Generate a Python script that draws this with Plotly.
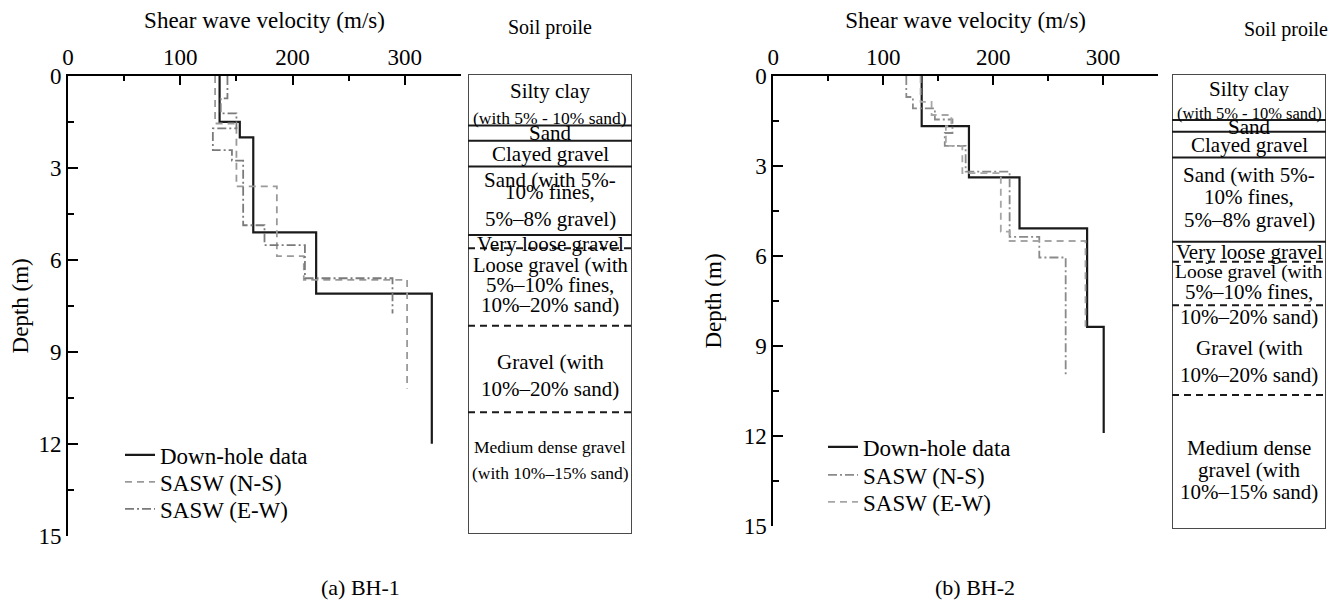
import plotly.graph_objects as go

W, H = 1338, 600
OFF = 8  # the page body adds an 8px margin; positions below are in screenshot pixels
FONT = "Liberation Serif"

# ---------------- data ----------------
velocity_ticks = [0, 100, 200, 300]
depth_ticks = [0, 3, 6, 9, 12, 15]
series_names = ["Down-hole data", "SASW (N-S)", "SASW (E-W)"]

# BH-1  (layer boundaries in m, velocity of each layer in m/s)
bh1_dh_depth = [0, 1.5, 2.0, 5.1, 7.1, 12.0]
bh1_dh_vs = [135, 153, 165, 221, 324]
bh1_ns_depth = [0, 1.55, 3.6, 5.88, 6.65, 10.2]
bh1_ns_vs = [131, 150, 186, 210, 302]
bh1_ew_depth = [0, 0.73, 1.22, 1.71, 2.42, 2.76, 4.87, 5.52, 6.6, 7.75]
bh1_ew_vs = [142, 136, 150, 129, 146, 156, 175, 211, 289]

# BH-2
bh2_dh_depth = [0, 1.67, 3.38, 5.08, 8.36, 11.9]
bh2_dh_vs = [135, 178, 224, 285.5, 300.6]
bh2_ns_depth = [0, 0.7, 1.08, 1.45, 1.9, 2.33, 3.19, 5.36, 6.05, 10.0]
bh2_ns_vs = [121, 127, 147, 163, 156, 175, 215, 242, 266]
bh2_ew_depth = [0, 0.86, 1.3, 1.67, 2.33, 3.24, 5.19, 5.5, 8.36]
bh2_ew_vs = [134, 144, 162, 157, 172, 207, 215, 284]

# soil profiles
profile_depth = 15
bh1_solid_bounds = [1.68, 2.18, 3.02, 5.25]
bh1_dashed_bounds = [5.68, 8.21, 11.03]
bh1_soil_text = ["Silty clay", "(with 5% - 10% sand)", "Sand", "Clayed gravel",
                 "Sand (with 5%-", "10% fines,", "5%–8% gravel)", "Very loose gravel",
                 "Loose gravel (with", "5%–10% fines,", "10%–20% sand)",
                 "Gravel (with", "10%–20% sand)", "Medium dense gravel", "(with 10%–15% sand)"]
bh1_soil_text_depth = [0.55, 1.43, 1.94, 2.61, 3.45, 3.84, 4.74, 5.55, 6.25, 6.87, 7.54,
                       9.39, 10.28, 12.16, 13.02]
bh1_soil_text_size = [21, 17.5, 21, 21, 21, 21, 21, 21, 20.5, 21, 21, 21, 21, 17.5, 17.5]

bh2_solid_bounds = [1.52, 1.90, 2.75, 5.53]
bh2_dashed_bounds = [6.19, 7.62, 10.58]
bh2_soil_text = ["Silty clay", "(with 5% - 10% sand)", "Sand", "Clayed gravel",
                 "Sand (with 5%-", "10% fines,", "5%–8% gravel)", "Very loose gravel",
                 "Loose gravel (with", "5%–10% fines,", "10%–20% sand)",
                 "Gravel (with", "10%–20% sand)", "Medium dense", "gravel (with", "10%–15% sand)"]
bh2_soil_text_depth = [0.5, 1.30, 1.74, 2.34, 3.33, 4.05, 4.81, 5.86, 6.52, 7.18, 8.0,
                       9.04, 9.92, 12.34, 13.06, 13.77]
bh2_soil_text_size = [21, 16.5, 21, 21, 21, 21, 21, 21, 19.5, 21, 21, 21, 21, 21, 21, 21]


def steps(depth, vs):
    return list(vs) + [vs[-1]], list(depth)


fig = go.Figure()

styles_bh1 = [
    dict(color="#1a1a1a", width=2.2, dash="solid"),
    dict(color="#9a9a9a", width=1.8, dash="7px,5px"),
    dict(color="#7a7a7a", width=1.8, dash="9px,3px,2px,3px"),
]
styles_bh2 = [
    dict(color="#1a1a1a", width=2.2, dash="solid"),
    dict(color="#8a8a8a", width=1.8, dash="9px,3px,2px,3px"),
    dict(color="#a6a6a6", width=1.8, dash="7px,5px"),
]

bh1_series = [(bh1_dh_depth, bh1_dh_vs), (bh1_ns_depth, bh1_ns_vs), (bh1_ew_depth, bh1_ew_vs)]
bh2_series = [(bh2_dh_depth, bh2_dh_vs), (bh2_ns_depth, bh2_ns_vs), (bh2_ew_depth, bh2_ew_vs)]

for i, ((d, v), st) in enumerate(zip(bh1_series, styles_bh1)):
    x, y = steps(d, v)
    fig.add_trace(go.Scatter(x=x, y=y, mode="lines", line_shape="vh", line=st,
                             name=series_names[i], xaxis="x", yaxis="y",
                             legend=f"legend{i + 2}", showlegend=True,
                             hoverinfo="skip"))
for i, ((d, v), st) in enumerate(zip(bh2_series, styles_bh2)):
    x, y = steps(d, v)
    fig.add_trace(go.Scatter(x=x, y=y, mode="lines", line_shape="vh", line=st,
                             name=series_names[i], xaxis="x2", yaxis="y2",
                             legend=f"legend{i + 5}", showlegend=True,
                             hoverinfo="skip"))


def px_x(p):
    return (p - OFF) / W


def px_y(p):
    return 1 - (p - OFF) / H


axis_common = dict(
    showline=True, linecolor="black", linewidth=2, showgrid=False, zeroline=False,
    ticks="inside", tickcolor="black", tickwidth=2, automargin=False,
    tickfont=dict(family=FONT, size=23, color="black"),
)

xaxis_style = dict(axis_common, range=[0, 350], side="top", tickvals=velocity_ticks,
                   ticklen=9, minor=dict(ticks="inside", dtick=50, tick0=0, ticklen=5,
                                         tickwidth=2, tickcolor="black"),
                   title=dict(text="Shear wave velocity (m/s)", standoff=13,
                              font=dict(family=FONT, size=23, color="black")))
yaxis_style = dict(axis_common, range=[15, 0], tickvals=depth_ticks, ticklen=10,
                   minor=dict(ticks="inside", dtick=1.5, tick0=0, ticklen=6,
                              tickwidth=2, tickcolor="black"),
                   title=dict(text="Depth (m)", standoff=16,
                              font=dict(family=FONT, size=23, color="black")))

hidden = dict(visible=False, showgrid=False, zeroline=False, fixedrange=True)

layout = dict(
    width=W, height=H,
    margin=dict(l=0, r=0, t=0, b=0),
    paper_bgcolor="white", plot_bgcolor="rgba(0,0,0,0)",
    font=dict(family=FONT, color="black", size=21),
    showlegend=True,
    xaxis=dict(xaxis_style, domain=[px_x(68), px_x(461)], anchor="y"),
    yaxis=dict(yaxis_style, domain=[px_y(535.7), px_y(76)], anchor="x"),
    xaxis2=dict(xaxis_style, domain=[px_x(773.3), px_x(1158)], anchor="y2"),
    yaxis2=dict(yaxis_style, domain=[px_y(526), px_y(76)], anchor="x2"),
    xaxis3=dict(hidden, domain=[px_x(468), px_x(632)], range=[0, 1], anchor="y3"),
    yaxis3=dict(hidden, domain=[px_y(534), px_y(74)], range=[profile_depth, 0], anchor="x3"),
    xaxis4=dict(hidden, domain=[px_x(1172), px_x(1326)], range=[0, 1], anchor="y4"),
    yaxis4=dict(hidden, domain=[px_y(529), px_y(74)], range=[profile_depth, 0], anchor="x4"),
)

legend_base = dict(xanchor="left", yanchor="middle", bgcolor="rgba(0,0,0,0)",
                   borderwidth=0, font=dict(family=FONT, size=23, color="black"))
left_legend_y = [455, 482, 509]
right_legend_y = [447, 475, 502]
for i, py in enumerate(left_legend_y):
    layout[f"legend{i + 2}"] = dict(legend_base, x=px_x(120), y=px_y(py))
for i, py in enumerate(right_legend_y):
    layout[f"legend{i + 5}"] = dict(legend_base, x=px_x(823), y=px_y(py))

fig.update_layout(**layout)

# soil profile boxes
shapes = []
annotations = []
for ax, solid, dashed, texts, tdepth, tsize in [
    ("3", bh1_solid_bounds, bh1_dashed_bounds, bh1_soil_text, bh1_soil_text_depth, bh1_soil_text_size),
    ("4", bh2_solid_bounds, bh2_dashed_bounds, bh2_soil_text, bh2_soil_text_depth, bh2_soil_text_size),
]:
    shapes.append(dict(type="rect", xref=f"x{ax}", yref=f"y{ax}", x0=0, x1=1,
                       y0=0, y1=profile_depth, line=dict(color="#4a4a4a", width=2)))
    for b in solid:
        shapes.append(dict(type="line", xref=f"x{ax}", yref=f"y{ax}", x0=0, x1=1,
                           y0=b, y1=b, line=dict(color="#1a1a1a", width=2)))
    for b in dashed:
        shapes.append(dict(type="line", xref=f"x{ax}", yref=f"y{ax}", x0=0, x1=1,
                           y0=b, y1=b, line=dict(color="#1a1a1a", width=2, dash="7px,5px")))
    for t, d, s in zip(texts, tdepth, tsize):
        annotations.append(dict(text=t, xref=f"x{ax}", yref=f"y{ax}", x=0.5, y=d,
                                showarrow=False, xanchor="center", yanchor="middle",
                                font=dict(family=FONT, size=s, color="black")))

for text, px, py, size in [("Soil proile", 550, 28, 20), ("Soil proile", 1286, 30, 20),
                           ("(a) BH-1", 360, 587, 22), ("(b) BH-2", 975, 587, 22)]:
    annotations.append(dict(text=text, xref="paper", yref="paper", x=px_x(px), y=px_y(py),
                            showarrow=False, xanchor="center", yanchor="middle",
                            font=dict(family=FONT, size=size, color="black")))

fig.update_layout(shapes=shapes, annotations=annotations)

fig.write_html("out.html")
